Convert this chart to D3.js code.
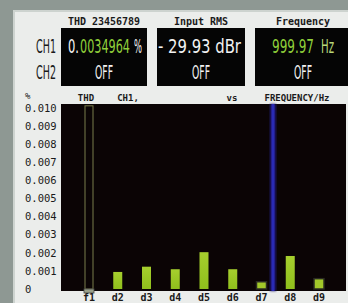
<!DOCTYPE html>
<html>
<head>
<meta charset="utf-8">
<script src="https://cdn.jsdelivr.net/npm/d3@7"></script>
<style>
  html, body { margin: 0; padding: 0; background: #8e9893; }
  svg { display: block; }
</style>
</head>
<body>
<div id="chart"></div>
<script>
// Harmonic labels and THD share (%) for CH1
const harmonics = ['f1', 'd2', 'd3', 'd4', 'd5', 'd6', 'd7', 'd8', 'd9']
const harmonicValues = [0.0101, 0.00094, 0.00123, 0.00109, 0.00203, 0.00109, 0.0004, 0.00182, 0.00057]
const belowFloor = [false, false, false, false, false, false, true, false, true]
const yTicks = [0, 0.001, 0.002, 0.003, 0.004, 0.005, 0.006, 0.007, 0.008, 0.009, 0.010]
const cursorHarmonic = 7.4

// Readout panel
const readoutTitles = ['THD 23456789', 'Input RMS', 'Frequency']
const readoutCh1 = [['0.', '0034964', '%'], ['- 29.93 dBr'], ['999.97', 'Hz']]
const readoutCh2 = ['OFF', 'OFF', 'OFF']
const channels = ['CH1', 'CH2']

const W = 348, H = 303
const svg = d3.select('#chart').append('svg')
    .attr('width', W).attr('height', H)

const defs = svg.append('defs')
const grad = defs.append('linearGradient').attr('id', 'barGrad')
    .attr('x1', 0).attr('y1', 0).attr('x2', 0).attr('y2', 1)
grad.append('stop').attr('offset', '0%').attr('stop-color', '#a6cf2e')
grad.append('stop').attr('offset', '100%').attr('stop-color', '#8fbf1c')
const blur = defs.append('filter').attr('id', 'soft')
blur.append('feGaussianBlur').attr('stdDeviation', 0.9)

// frame + panel
svg.append('rect').attr('x', 0).attr('y', 0).attr('width', W).attr('height', H).attr('fill', '#8e9893')
svg.append('rect').attr('x', 13).attr('y', 10).attr('width', W - 13).attr('height', H - 10).attr('fill', '#cdd3cf')
svg.append('rect').attr('x', 15).attr('y', 12).attr('width', W - 15).attr('height', H - 12).attr('fill', '#ebedeb')

const monoFont = '"DejaVu Sans Mono", monospace'
const narrowFont = '"DejaVu Sans Condensed", "DejaVu Sans", sans-serif'

// squeezed display text, like the instrument's tall narrow font
function displayText(px, py, len, s, colour) {
    const t = svg.append('text')
        .attr('font-family', narrowFont)
        .attr('font-size', 19)
        .attr('fill', colour)
        .text(s)
    const natural = t.node().getComputedTextLength()
    t.attr('transform', `translate(${px}, ${py}) scale(${len / natural}, 1)`)
    return t
}

// readout boxes; each piece of the value is placed by [x, width, colour]
const boxes = [
    {x: 61, w: 86, pieces: [[68, 11, '#f2f2f2'], [80, 50, '#8fcf3a'], [134, 8, '#f2f2f2']]},
    {x: 157, w: 88, pieces: [[158, 83, '#f2f2f2']]},
    {x: 255, w: 96, pieces: [[272, 42, '#8fcf3a'], [321, 13, '#b8d878']]}
]
boxes.forEach((b, i) => {
    const cx = b.x + b.w / 2
    svg.append('text')
        .attr('x', cx).attr('y', 25)
        .attr('text-anchor', 'middle')
        .attr('font-family', monoFont).attr('font-weight', 'bold')
        .attr('font-size', 10).attr('fill', '#1a1a1a')
        .text(readoutTitles[i])
    svg.append('rect')
        .attr('x', b.x).attr('y', 28).attr('width', b.w).attr('height', 58)
        .attr('fill', '#050505')
    b.pieces.forEach(([px, len, col], j) => displayText(px, 53, len, readoutCh1[i][j], col))
    displayText(cx - 9, 79, 18, readoutCh2[i], '#f2f2f2')
})
channels.forEach((c, i) => displayText(36, 53 + i * 26, 20, c, '#1a1a1a'))

// plot
const plot = {left: 61, right: 346, top: 104, bottom: 291}
svg.append('rect')
    .attr('x', plot.left).attr('y', plot.top)
    .attr('width', plot.right - plot.left).attr('height', plot.bottom - plot.top)
    .attr('fill', '#0b0405')

const x = d3.scalePoint().domain(harmonics).range([89, 319])
const xNum = d3.scaleLinear().domain([1, 9]).range([89, 319])
const y = d3.scaleLinear().domain([0, 0.0102]).range([289, plot.top])

// y axis, labels left-aligned like the instrument
const yAxis = svg.append('g')
    .attr('transform', `translate(${plot.left}, 0)`)
    .call(d3.axisLeft(y).tickValues(yTicks).tickSize(0)
        .tickFormat(d => d === 0 ? '0' : d3.format('.3f')(d)))
yAxis.select('.domain').remove()
yAxis.selectAll('text')
    .attr('x', 25 - plot.left)
    .attr('text-anchor', 'start')
    .attr('font-family', monoFont).attr('font-size', 10.5)
    .attr('fill', '#1a1a1a')
svg.append('text')
    .attr('x', 25).attr('y', 99)
    .attr('font-family', monoFont).attr('font-size', 9).attr('fill', '#1a1a1a')
    .text('%')

// plot title
const titleParts = [['THD', 86], ['CH1,', 128], ['vs', 232], ['FREQUENCY/Hz', 297]]
titleParts.forEach(([s, px]) => {
    svg.append('text')
        .attr('x', px).attr('y', 101)
        .attr('text-anchor', 'middle')
        .attr('font-family', monoFont).attr('font-weight', 'bold')
        .attr('font-size', 9).attr('fill', '#1a1a1a')
        .text(s)
})

// cursor line
const cx = xNum(cursorHarmonic)
svg.append('rect')
    .attr('x', cx - 3).attr('y', plot.top).attr('width', 6).attr('height', plot.bottom - plot.top)
    .attr('fill', '#1a1470').attr('filter', 'url(#soft)')
svg.append('rect')
    .attr('x', cx - 1.5).attr('y', plot.top).attr('width', 3).attr('height', plot.bottom - plot.top)
    .attr('fill', '#2a2ab4')

// bars
const barW = 9
const barData = harmonics.map((h, i) => ({h, v: harmonicValues[i], low: belowFloor[i]}))
svg.append('g').selectAll('rect')
    .data(barData.filter(d => d.h !== 'f1' && !d.low))
    .join('rect')
    .attr('x', d => x(d.h) - barW / 2)
    .attr('y', d => y(d.v))
    .attr('width', barW)
    .attr('height', d => y(0) - y(d.v))
    .attr('fill', 'url(#barGrad)')

svg.append('g').selectAll('rect')
    .data(barData.filter(d => d.low))
    .join('rect')
    .attr('x', d => x(d.h) - 5)
    .attr('y', d => y(d.v))
    .attr('width', 10)
    .attr('height', d => y(0) - y(d.v))
    .attr('fill', '#a2c82a')
    .attr('stroke', '#2a2a22').attr('stroke-width', 1.5)

// fundamental: outline only, off scale
const f = barData[0]
svg.append('rect')
    .attr('x', x(f.h) - 4).attr('y', y(f.v))
    .attr('width', 8).attr('height', y(0) - y(f.v))
    .attr('fill', 'none').attr('stroke', '#7a7c4c').attr('stroke-width', 1)
svg.append('rect')
    .attr('x', x(f.h) - 5).attr('y', y(0))
    .attr('width', 10).attr('height', 4)
    .attr('fill', '#9aa08a').attr('stroke', '#444').attr('stroke-width', 0.8)

// x labels
svg.append('g').selectAll('text')
    .data(harmonics)
    .join('text')
    .attr('x', d => x(d))
    .attr('y', 301)
    .attr('text-anchor', 'middle')
    .attr('font-family', monoFont).attr('font-weight', 'bold')
    .attr('font-size', 10).attr('fill', '#1a1a1a')
    .text(d => d)
</script>
</body>
</html>
